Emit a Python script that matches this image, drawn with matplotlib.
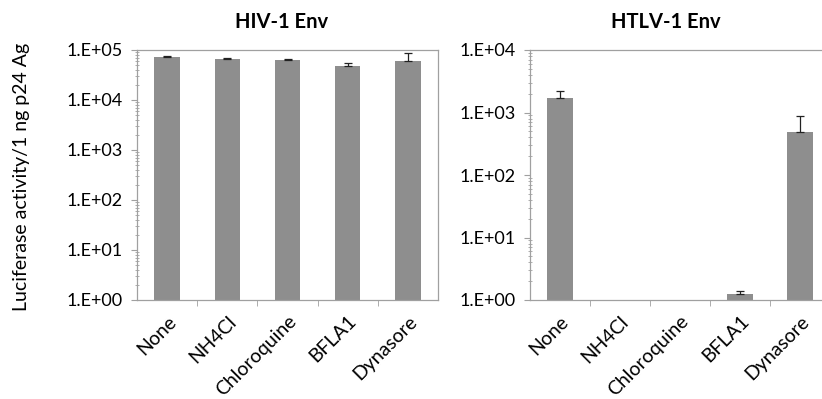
import numpy as np
import matplotlib
matplotlib.use("Agg")
import matplotlib.pyplot as plt
from matplotlib.ticker import LogLocator, FuncFormatter, FixedLocator, NullFormatter

plt.rcParams['font.family'] = ['Lato', 'DejaVu Sans']

categories = ["None", "NH4Cl", "Chloroquine", "BFLA1", "Dynasore"]
hiv_values = [72000, 66000, 62000, 48000, 61000]
hiv_errors = [3000, 2500, 4000, 8000, 25000]
htlv_values = [1700, 1.0, 1.0, 1.25, 480]
htlv_errors = [500, 0, 0, 0.12, 390]
titles = ["HIV-1 Env", "HTLV-1 Env"]
ylabel = "Luciferase activity/1 ng p24 Ag"

W, H = 822, 399
fig = plt.figure(figsize=(W / 100, H / 100), dpi=100)

def px_axes(x0, x1, y0, y1):
    return fig.add_axes([x0 / W, 1 - y1 / H, (x1 - x0) / W, (y1 - y0) / H])

ax1 = px_axes(137, 438, 50, 300)
ax2 = px_axes(530, 830, 50, 300)

bar_color = "#8e8e8e"
spine_color = "#a0a0a0"

def fmt(v, pos):
    e = int(round(np.log10(v)))
    return f"1.E+{e:02d}"

for ax, vals, errs, top in [(ax1, hiv_values, hiv_errors, 1e5), (ax2, htlv_values, htlv_errors, 1e4)]:
    x = np.arange(len(categories))
    ax.bar(x, vals, width=0.42, color=bar_color, bottom=0, zorder=2)
    errs_arr = np.array(errs)
    mask = errs_arr > 0
    ax.errorbar(x[mask], np.array(vals)[mask], yerr=[np.zeros(mask.sum()), errs_arr[mask]],
                fmt="none", ecolor="#222222", elinewidth=0.9, capsize=3, capthick=0.9, zorder=3)
    ax.set_yscale("log")
    ax.set_ylim(1, top)
    ax.set_xlim(-0.5, len(categories) - 0.5)
    ax.yaxis.set_major_locator(LogLocator(base=10, numticks=10))
    ax.yaxis.set_major_formatter(FuncFormatter(fmt))
    ax.yaxis.set_minor_locator(LogLocator(base=10, subs=np.arange(2, 10), numticks=10))
    ax.yaxis.set_minor_formatter(NullFormatter())
    ax.set_xticks(x)
    ax.set_xticklabels(categories, rotation=45, ha="right", rotation_mode="anchor", fontsize=14)
    ax.tick_params(axis="x", which="major", length=0, pad=9)
    ax.xaxis.set_minor_locator(FixedLocator(np.arange(0.5, len(categories) - 0.5, 1)))
    ax.tick_params(axis="x", which="minor", length=4, color=spine_color, direction="out")
    ax.tick_params(axis="y", which="major", length=4, color=spine_color, direction="out",
                   labelsize=13, pad=6)
    ax.tick_params(axis="y", which="minor", length=2.5, color=spine_color, direction="inout")
    for s in ax.spines.values():
        s.set_color(spine_color)
        s.set_linewidth(0.9)

fig.text(282 / W, 1 - 22 / H, titles[0], ha="center", va="center", fontsize=14.5, fontweight="bold")
fig.text(666 / W, 1 - 22 / H, titles[1], ha="center", va="center", fontsize=14.5, fontweight="bold")
fig.text(22 / W, 1 - 177 / H, ylabel, ha="center", va="center", rotation=90, fontsize=14)

fig.savefig("out.png", dpi=100)
